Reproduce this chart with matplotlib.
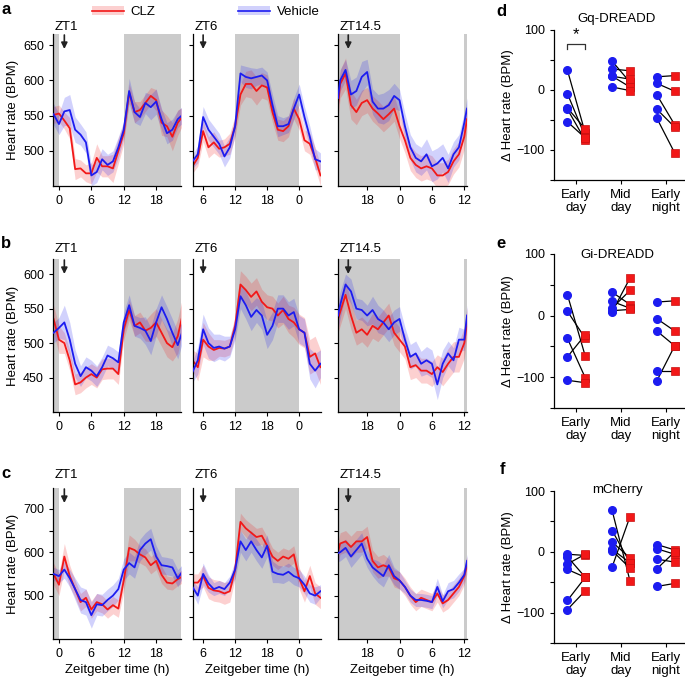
import numpy as np
import matplotlib
matplotlib.use('Agg')
import matplotlib.pyplot as plt
from matplotlib.patches import Patch
from matplotlib.lines import Line2D

plt.rcParams['font.family'] = ['Liberation Sans', 'DejaVu Sans']
plt.rcParams['font.size'] = 9
plt.rcParams['axes.linewidth'] = 0.9
plt.rcParams['xtick.major.size'] = 3
plt.rcParams['ytick.major.size'] = 3
plt.rcParams['xtick.major.width'] = 0.8
plt.rcParams['ytick.major.width'] = 0.8

# time grids (h, ZT)
t_zt1 = np.arange(-1, 24)
t_zt6 = np.arange(4, 29)
t_zt14 = np.concatenate([[12.6], np.arange(13, 37), [36.5]])

# ---- row a ----
a_zt1_clz = [551, 553, 543, 532, 474, 475, 468, 468, 490, 478, 478, 475, 500, 525, 583, 555, 558, 568, 578, 572, 540, 535, 520, 540, 550]
a_zt1_clz_sem = [12, 12, 12, 15, 15, 12, 12, 15, 20, 15, 15, 20, 18, 15, 12, 15, 12, 12, 12, 15, 18, 15, 20, 18, 12]
a_zt1_veh = [552, 538, 556, 558, 530, 523, 512, 465, 470, 488, 480, 485, 505, 530, 585, 555, 548, 568, 562, 570, 545, 525, 530, 545, 552]
a_zt1_veh_sem = [15, 15, 20, 22, 18, 15, 15, 15, 15, 15, 15, 15, 15, 12, 18, 15, 12, 15, 18, 18, 15, 15, 15, 12, 12]

a_zt6_clz = [478, 490, 528, 505, 512, 503, 505, 510, 535, 580, 595, 595, 585, 593, 590, 555, 530, 528, 535, 560, 545, 515, 510, 490, 465]
a_zt6_clz_sem = [10, 12, 15, 15, 15, 12, 12, 15, 15, 15, 18, 20, 20, 18, 18, 15, 15, 15, 15, 15, 15, 15, 15, 15, 15]
a_zt6_veh = [485, 495, 548, 530, 520, 510, 492, 505, 535, 610, 605, 603, 605, 607, 600, 565, 535, 535, 538, 560, 580, 548, 520, 488, 485]
a_zt6_veh_sem = [10, 12, 15, 15, 15, 15, 15, 15, 12, 12, 15, 15, 12, 12, 12, 15, 15, 12, 12, 15, 15, 15, 15, 15, 12]

a_zt14_clz = [565, 595, 610, 565, 555, 568, 572, 560, 553, 545, 552, 560, 535, 515, 490, 480, 475, 478, 475, 465, 465, 470, 485, 495, 520, 545]
a_zt14_clz_sem = [18, 20, 22, 20, 18, 18, 18, 18, 18, 18, 18, 18, 18, 18, 18, 18, 18, 18, 18, 18, 18, 18, 18, 18, 18, 18]
a_zt14_veh = [575, 600, 615, 580, 585, 605, 612, 570, 560, 560, 565, 578, 572, 535, 505, 490, 485, 495, 478, 482, 490, 475, 495, 505, 540, 560]
a_zt14_veh_sem = [15, 15, 15, 20, 20, 22, 18, 18, 20, 22, 22, 18, 15, 18, 18, 20, 20, 22, 22, 22, 20, 20, 18, 18, 15, 15]

# ---- row b ----
b_zt1_clz = [535, 505, 500, 475, 440, 443, 450, 455, 450, 462, 463, 463, 455, 520, 548, 525, 530, 518, 522, 530, 515, 500, 494, 510, 545]
b_zt1_clz_sem = [20, 20, 15, 15, 15, 15, 15, 15, 15, 15, 15, 15, 15, 15, 15, 15, 15, 15, 20, 20, 20, 20, 20, 25, 25]
b_zt1_veh = [515, 522, 530, 505, 470, 452, 465, 460, 452, 465, 482, 478, 472, 530, 555, 525, 522, 518, 503, 530, 552, 535, 515, 497, 520]
b_zt1_veh_sem = [15, 15, 25, 25, 20, 15, 15, 15, 15, 15, 15, 15, 15, 15, 15, 15, 15, 20, 20, 20, 18, 18, 20, 20, 15]

b_zt6_clz = [475, 465, 505, 495, 490, 493, 492, 495, 525, 585, 577, 567, 575, 560, 552, 550, 540, 548, 535, 530, 520, 515, 480, 485, 465]
b_zt6_clz_sem = [15, 20, 25, 20, 15, 12, 12, 12, 15, 20, 20, 20, 20, 18, 18, 18, 18, 20, 20, 22, 22, 22, 25, 25, 25]
b_zt6_veh = [458, 475, 520, 500, 493, 495, 492, 495, 520, 568, 555, 538, 548, 540, 512, 525, 550, 550, 540, 545, 520, 515, 470, 460, 470]
b_zt6_veh_sem = [15, 20, 22, 22, 20, 18, 18, 15, 15, 18, 20, 20, 18, 20, 20, 20, 20, 20, 20, 20, 20, 20, 22, 25, 20]

b_zt14_clz = [535, 545, 570, 540, 515, 520, 512, 525, 520, 530, 540, 515, 505, 495, 465, 468, 460, 460, 455, 465, 458, 470, 480, 480, 500, 530]
b_zt14_clz_sem = [20, 20, 20, 20, 18, 18, 18, 18, 18, 18, 18, 18, 18, 18, 18, 18, 18, 18, 18, 18, 20, 22, 22, 22, 22, 22]
b_zt14_veh = [540, 555, 585, 575, 550, 548, 540, 548, 535, 530, 520, 530, 535, 505, 480, 485, 470, 475, 470, 440, 470, 485, 475, 505, 505, 540]
b_zt14_veh_sem = [20, 20, 15, 18, 15, 15, 15, 20, 20, 18, 18, 18, 18, 18, 18, 18, 18, 20, 20, 22, 20, 18, 18, 18, 15, 15]

# ---- row c ----
c_zt1_clz = [550, 525, 590, 545, 515, 485, 495, 468, 485, 480, 468, 478, 470, 535, 610, 605, 595, 588, 570, 580, 548, 530, 528, 538, 545]
c_zt1_clz_sem = [25, 25, 30, 25, 20, 20, 20, 20, 20, 20, 20, 20, 20, 25, 30, 25, 20, 20, 20, 20, 20, 15, 15, 15, 15]
c_zt1_veh = [550, 545, 560, 540, 515, 490, 485, 455, 480, 478, 490, 500, 515, 560, 575, 565, 605, 620, 630, 590, 570, 568, 565, 540, 558]
c_zt1_veh_sem = [15, 15, 20, 20, 25, 30, 30, 30, 25, 25, 25, 25, 25, 25, 25, 25, 25, 25, 25, 25, 20, 20, 20, 20, 15]

c_zt6_clz = [530, 530, 545, 518, 512, 510, 505, 510, 560, 670, 655, 645, 635, 638, 615, 590, 580, 590, 585, 595, 540, 510, 545, 505, 495]
c_zt6_clz_sem = [20, 20, 25, 25, 25, 25, 25, 25, 20, 20, 20, 20, 20, 20, 20, 20, 20, 20, 20, 20, 25, 25, 25, 25, 25]
c_zt6_veh = [520, 500, 550, 528, 515, 520, 515, 530, 560, 625, 605, 625, 605, 588, 615, 555, 550, 548, 555, 545, 540, 525, 505, 500, 510]
c_zt6_veh_sem = [15, 20, 25, 20, 15, 15, 15, 15, 20, 25, 25, 25, 25, 25, 25, 25, 20, 20, 20, 20, 20, 20, 20, 20, 15]

c_zt14_clz = [600, 620, 625, 612, 625, 625, 635, 580, 565, 570, 565, 540, 535, 520, 500, 485, 495, 490, 485, 505, 482, 490, 505, 520, 545, 570]
c_zt14_clz_sem = [25, 25, 25, 25, 25, 25, 25, 25, 25, 25, 20, 20, 20, 20, 20, 20, 20, 20, 20, 20, 20, 20, 20, 20, 20, 20]
c_zt14_veh = [598, 600, 610, 590, 605, 620, 585, 565, 555, 545, 570, 545, 535, 520, 500, 490, 490, 488, 485, 520, 487, 510, 515, 530, 548, 580]
c_zt14_veh_sem = [20, 20, 20, 25, 25, 25, 20, 20, 25, 25, 25, 20, 20, 15, 15, 15, 15, 15, 15, 20, 15, 20, 20, 20, 15, 15]

# ---- panels d-f (delta heart rate, vehicle vs CLZ) ----
categories = ['Early\nday', 'Mid\nday', 'Early\nnight']
d_veh = [[33, -6, -30, -32, -53], [48, 35, 23, 23, 5], [22, 11, -8, -32, -47]]
d_clz = [[-72, -78, -65, -84, -80], [13, 32, 18, 5, -1], [24, -2, -58, -62, -105]]
e_veh = [[34, 7, -37, -67, -105], [38, 23, 12, 6, 8], [22, -5, -25, -90, -106]]
e_clz = [[-66, -37, -101, -31, -109], [18, 12, 41, 61, 10], [24, -25, -49, -90, -49]]
f_veh = [[-4, -8, -20, -29, -80, -95], [68, 35, 16, 4, 2, -25], [12, 5, -12, -28, -57]]
f_clz = [[-6, -42, -4, -42, -42, -64], [-48, -18, -10, -18, -27, 58], [3, -4, -17, 0, -52]]

RED = '#f21818'
BLUE = '#1c1cf0'
GRAY = '#cbcbcb'

W, H = 685, 682
fig = plt.figure(figsize=(W / 100, H / 100), dpi=100)


def add_ax(x0, x1, ytop, ybot):
    return fig.add_axes([x0 / W, 1 - ybot / H, (x1 - x0) / W, (ybot - ytop) / H])


cols = [(53, 181), (193, 321), (338, 467)]
rows = [(34, 186), (259, 412), (488, 639)]
xlims = [(-1.1, 22.6), (4.1, 28.1), (12.6, 36.5)]
xticks = [[0, 6, 12, 18], [6, 12, 18, 24], [18, 24, 30, 36]]
inj = [1, 6, 14.5]
zt_names = ['ZT1', 'ZT6', 'ZT14.5']
times = [t_zt1, t_zt6, t_zt14]
row_data = [
    [(a_zt1_clz, a_zt1_clz_sem, a_zt1_veh, a_zt1_veh_sem),
     (a_zt6_clz, a_zt6_clz_sem, a_zt6_veh, a_zt6_veh_sem),
     (a_zt14_clz, a_zt14_clz_sem, a_zt14_veh, a_zt14_veh_sem)],
    [(b_zt1_clz, b_zt1_clz_sem, b_zt1_veh, b_zt1_veh_sem),
     (b_zt6_clz, b_zt6_clz_sem, b_zt6_veh, b_zt6_veh_sem),
     (b_zt14_clz, b_zt14_clz_sem, b_zt14_veh, b_zt14_veh_sem)],
    [(c_zt1_clz, c_zt1_clz_sem, c_zt1_veh, c_zt1_veh_sem),
     (c_zt6_clz, c_zt6_clz_sem, c_zt6_veh, c_zt6_veh_sem),
     (c_zt14_clz, c_zt14_clz_sem, c_zt14_veh, c_zt14_veh_sem)],
]
ylims = [(450, 666), (400, 622), (400, 748)]
yticks = [[500, 550, 600, 650], [450, 500, 550, 600], [450, 500, 550, 600, 650, 700]]
yticklabels = [['500', '550', '600', '650'], ['450', '500', '550', '600'],
               ['', '500', '', '600', '', '700']]
zt_offset = [7, 10, 13]

for r, (ytop, ybot) in enumerate(rows):
    for c, (x0, x1) in enumerate(cols):
        ax = add_ax(x0, x1, ytop, ybot)
        t = times[c]
        clz, clz_sem, veh, veh_sem = [np.array(v) for v in row_data[r][c]]
        for s, e in [(-12, 0), (12, 24), (36, 48)]:
            ax.axvspan(s, e, color=GRAY, lw=0, zorder=0)
        ax.fill_between(t, clz - clz_sem, clz + clz_sem, color=RED, alpha=0.2, lw=0, zorder=1)
        ax.fill_between(t, veh - veh_sem, veh + veh_sem, color=BLUE, alpha=0.2, lw=0, zorder=1)
        ax.plot(t, clz, color=RED, lw=1.3, zorder=2)
        ax.plot(t, veh, color=BLUE, lw=1.3, zorder=3)
        ax.set_xlim(*xlims[c])
        ax.set_ylim(*ylims[r])
        ax.set_xticks(xticks[c])
        ax.set_xticklabels([str(int(v % 24)) for v in xticks[c]])
        ax.set_yticks(yticks[r])
        if c == 0:
            ax.set_yticklabels(yticklabels[r])
            ax.set_ylabel('Heart rate (BPM)', fontsize=9.5, labelpad=3)
        else:
            ax.set_yticklabels([])
        for side in ['top', 'right']:
            ax.spines[side].set_visible(False)
        ax.tick_params(labelsize=9)
        if r == 2:
            ax.set_xlabel('Zeitgeber time (h)', fontsize=9.5, labelpad=3)
        hpx = ybot - ytop
        ax.text(0.01, 1 + zt_offset[r] / hpx, zt_names[c], transform=ax.transAxes,
                ha='left', va='center', fontsize=9.5)
        ax.annotate('', xy=(inj[c], 1 - 15 / hpx), xytext=(inj[c], 1 - 1 / hpx),
                    xycoords=('data', 'axes fraction'), textcoords=('data', 'axes fraction'),
                    arrowprops=dict(arrowstyle='-|>', color='#222222', lw=1.2,
                                    mutation_scale=9, shrinkA=0, shrinkB=0))

# right column
right_rows = [(30, 180), (254, 408), (491, 643)]
right_titles = ['Gq-DREADD', 'Gi-DREADD', 'mCherry']
title_y = [19, 255, 490]
right_data = [(d_veh, d_clz), (e_veh, e_clz), (f_veh, f_clz)]
for i, (ytop, ybot) in enumerate(right_rows):
    ax = add_ax(554, 685, ytop, ybot)
    veh_groups, clz_groups = right_data[i]
    for k in range(len(categories)):
        for vb, vr in zip(veh_groups[k], clz_groups[k]):
            ax.plot([k - 0.2, k + 0.2], [vb, vr], color='k', lw=0.9, zorder=1)
        ax.plot([k - 0.2] * len(veh_groups[k]), veh_groups[k], 'o', color=BLUE, ms=5.5, mec=BLUE, zorder=3)
        ax.plot([k + 0.2] * len(clz_groups[k]), clz_groups[k], 's', color=RED, ms=5.5, mec='#c81010', mew=0.5, zorder=3)
    ax.set_xlim(-0.5, 2.43)
    ax.set_ylim(-150, 100)
    ax.set_xticks(range(len(categories)))
    ax.set_xticklabels(categories, fontsize=9.5, linespacing=1.15)
    ax.set_yticks([-150, -100, -50, 0, 50, 100])
    ax.set_yticklabels(['', '\u2212100', '', '0', '', '100'], fontsize=9)
    for side in ['top', 'right']:
        ax.spines[side].set_visible(False)
    ax.set_ylabel('\u0394 Heart rate (BPM)', fontsize=9.5, labelpad=2)
    fig.text(617 / W, 1 - title_y[i] / H, right_titles[i], ha='center', va='center', fontsize=9.5)
    if i == 0:
        ax.plot([-0.2, -0.2, 0.2, 0.2], [68, 77, 77, 68], color='#333333', lw=0.9)
        ax.text(0, 80, '*', ha='center', va='bottom', fontsize=12)

# panel letters
for lab, x, y in [('a', 6, 10), ('b', 6, 243), ('c', 6, 473),
                  ('d', 501, 11), ('e', 501, 244), ('f', 502, 469)]:
    fig.text(x / W, 1 - y / H, lab, ha='center', va='center', fontsize=12, fontweight='bold')

# legend
handles = [(Patch(facecolor=RED, alpha=0.2, lw=0), Line2D([], [], color=RED, lw=1.2)),
           (Patch(facecolor=BLUE, alpha=0.2, lw=0), Line2D([], [], color=BLUE, lw=1.2))]
fig.legend(handles, ['CLZ', 'Vehicle'], loc='upper left', bbox_to_anchor=(92 / W, 1 - 6 / H),
           ncol=2, frameon=False, handlelength=2.4, columnspacing=6.3, handletextpad=0.5,
           borderpad=0, borderaxespad=0, fontsize=9.5)

fig.savefig('out.png', dpi=100)
